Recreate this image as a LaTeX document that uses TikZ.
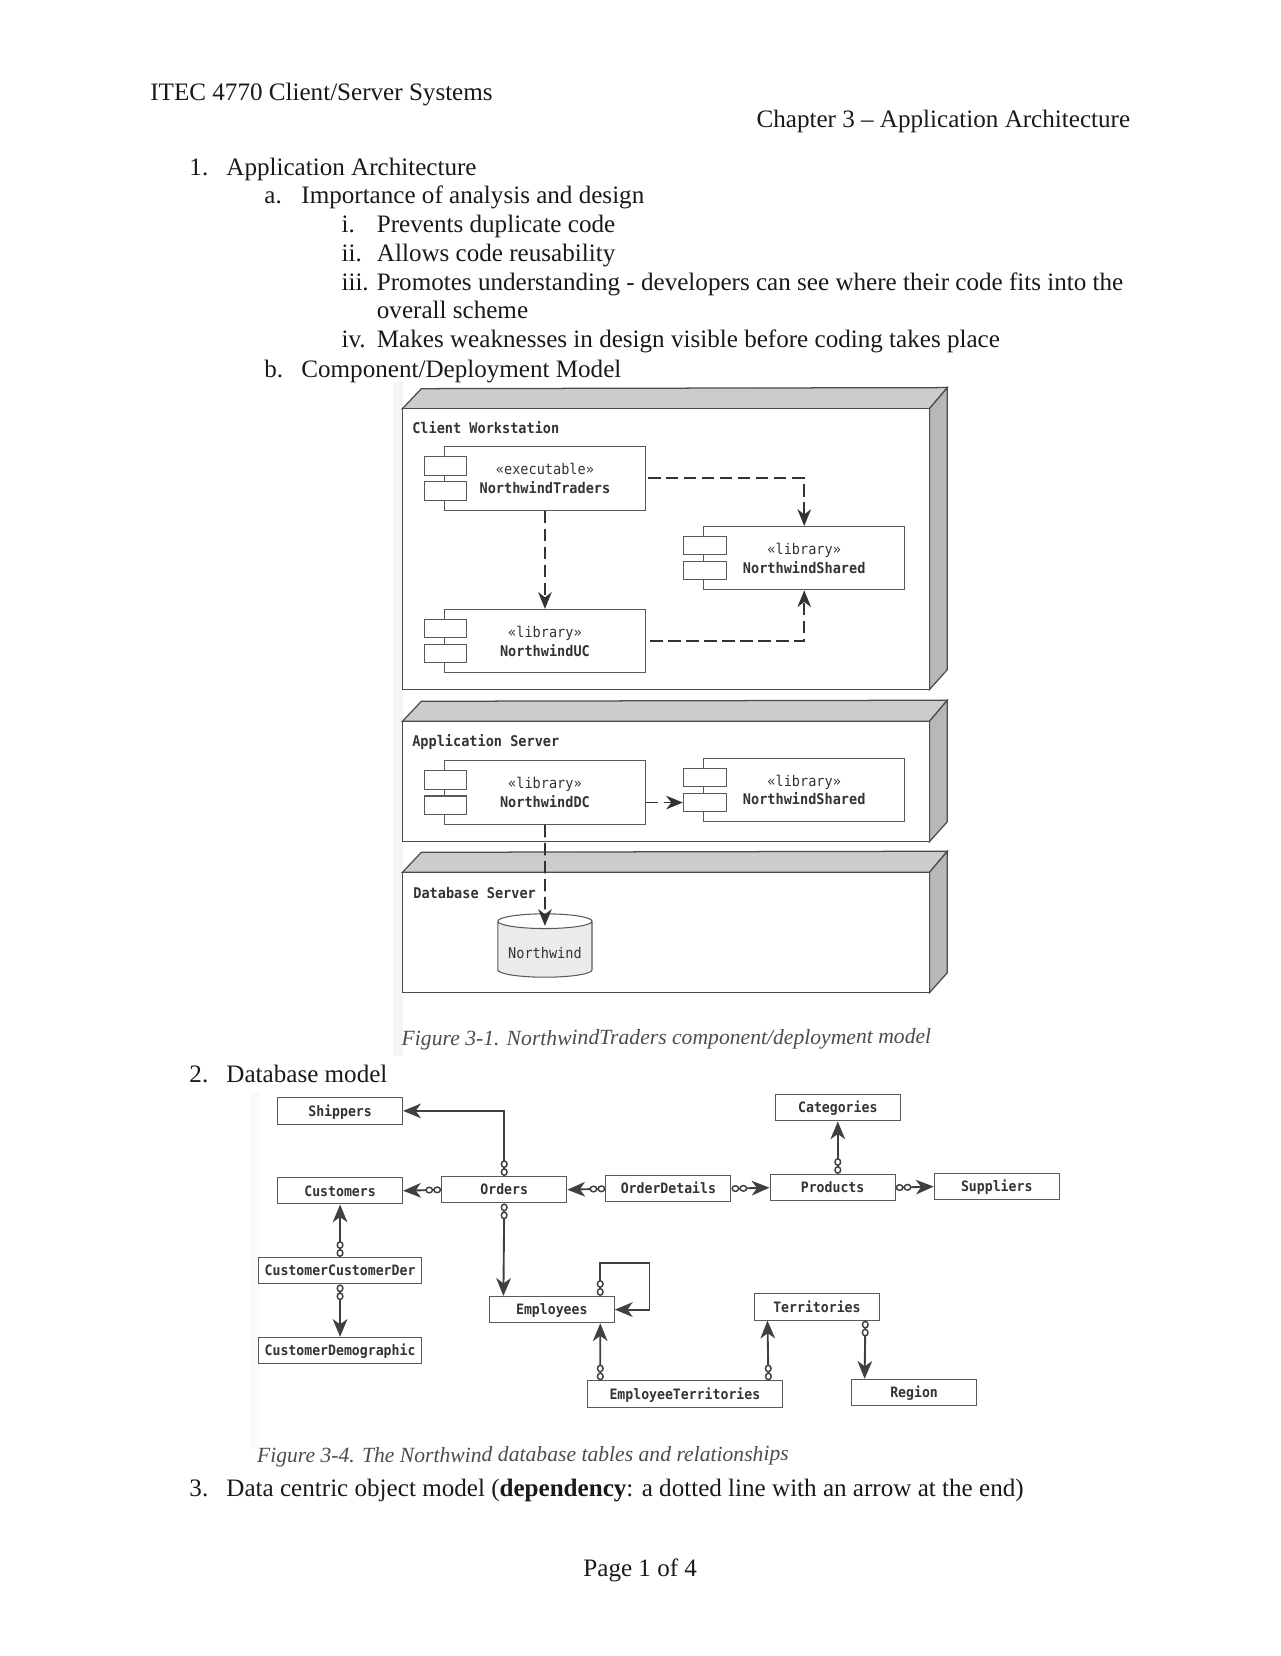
\documentclass[tikz,border=0pt]{standalone}
\usepackage{fontspec}
\setmainfont{Liberation Serif}
\newfontfamily\boxfont[FakeStretch=0.92]{DejaVu Sans Mono}
\usetikzlibrary{shapes,arrows.meta}

\tikzset{
	doctext/.style={anchor=base west, inner sep=0pt, text=black!90, font=\fontsize{12}{14}\selectfont},
	caption/.style={anchor=base west, inner sep=0pt, text=black!70, rotate=0.2, font=\fontsize{10.35}{12}\selectfont\itshape},
	devlabel/.style={anchor=west, inner sep=0pt, text=black!80, font=\boxfont\bfseries\fontsize{7.05}{9}\selectfont},
	compbody/.style={rectangle, draw=black!65, fill=white, line width=.5pt, minimum width=96pt, minimum height=30.3pt, inner sep=0pt, align=center, text=black!80, font=\boxfont\fontsize{7.05}{9}\selectfont},
	comptab/.style={rectangle, draw=black!65, fill=white, line width=.5pt, minimum width=20.5pt, minimum height=8.8pt, inner sep=0pt, xshift=.7pt},
	dbtable/.style={rectangle, draw=black!65, line width=.5pt, minimum width=59.8pt, minimum height=12.6pt, inner sep=0pt, text height=6.4pt, text depth=1.4pt, text=black!80, font=\boxfont\bfseries\fontsize{6.85}{8}\selectfont},
	rowtable/.style={dbtable, node distance=78.5pt, yshift=.5pt},
	coltable/.style={dbtable, node distance=38.2pt},
	deps/.style={draw, black!80, line width=.9pt, dash pattern=on 6pt off 2.6pt, -{Stealth[length=8pt, width=6.5pt, inset=2.5pt]}},
	rel/.style={draw, black!75, line width=.9pt, {Circle[open, fill=white, length=3.8pt, width=3.4pt, line width=.7pt]Circle[open, fill=white, length=3.8pt, width=3.4pt, line width=.7pt]}-{Stealth[length=8.5pt, width=7pt, inset=2.5pt]}}
}

\newcommand{\compbox}[4]{
	\node[compbody] (#1) at (#2) {«#3»\\\textbf{#4}};
	\node[comptab, yshift=6pt] (#1a) at (#1.west) {};
	\node[comptab, yshift=-6pt] (#1b) at (#1.west) {};
}

\begin{document}
\begin{tikzpicture}[x=0.505pt, y=-0.505pt]
	\useasboundingbox (0,0) rectangle (1212,1568);

	% page text
	\node[doctext] (course) at (142,95) {ITEC 4770 Client/Server Systems};
	\node[doctext] (chapter) at (716,121) {Chapter 3 -- Application Architecture};
	\node[doctext] (n1) at (179,166) {1.};
	\node[doctext] (t1) at (214,166) {Application Architecture};
	\node[doctext] (na) at (250,193) {a.};
	\node[doctext] (ta) at (285,193) {Importance of analysis and design};
	\node[doctext] (ni) at (323,220) {i.};
	\node[doctext] (ti) at (356.5,220) {Prevents duplicate code};
	\node[doctext] (nii) at (323,248) {ii.};
	\node[doctext] (tii) at (356.5,248) {Allows code reusability};
	\node[doctext] (niii) at (323,275) {iii.};
	\node[doctext] (tiii) at (356.5,275) {Promotes understanding - developers can see where their code fits into the};
	\node[doctext] (tiiib) at (356.5,302) {overall scheme};
	\node[doctext] (niv) at (323,329) {iv.};
	\node[doctext] (tiv) at (356.5,329) {Makes weaknesses in design visible before coding takes place};
	\node[doctext] (nb) at (250,357) {b.};
	\node[doctext] (tb) at (285,357) {Component/Deployment Model};
	\node[doctext] (n2) at (179,1025) {2.};
	\node[doctext] (t2) at (214,1025) {Database model};
	\node[doctext] (n3) at (179,1417) {3.};
	\node[doctext] (t3) at (214,1417) {Data centric object model (\textbf{dependency}: a dotted line with an arrow at the end)};
	\node[doctext] (pageno) at (552,1493) {Page 1 of 4};

	% scan edges
	\fill[black!4] (372,362) rectangle (382,1000);
	\fill[black!2] (238,1035) rectangle (246,1372);

	% deployment boxes
	\foreach \ytop/\ybot in {387/653, 683/797, 826/940}{
		\path[draw=black!70, fill=black!20, line width=.6pt] (381,\ytop) -- ++(18,-19) -- ++(498,-1) -- (880,\ytop) -- cycle;
		\path[draw=black!70, fill=black!28, line width=.6pt] (880,\ytop) -- (897,\ytop-20) -- (897,\ybot-19) -- (880,\ybot) -- cycle;
		\path[draw=black!70, fill=white, line width=.6pt] (381,\ytop) rectangle (880,\ybot);
	}
	\node[devlabel] (client) at (390,405) {Client Workstation};
	\node[devlabel] (appserver) at (390,703) {Application Server};
	\node[devlabel] (dbserver) at (391,846) {Database Server};

	\compbox{traders}{516,453}{executable}{NorthwindTraders}
	\compbox{shared}{761.5,528.5}{library}{NorthwindShared}
	\compbox{uc}{516,607}{library}{NorthwindUC}
	\compbox{dc}{516,750.5}{library}{NorthwindDC}
	\compbox{sharedb}{761.5,748}{library}{NorthwindShared}
	\node[cylinder, shape border rotate=90, aspect=0.2, draw=black!65, line width=.5pt, cylinder uses custom fill, cylinder end fill=white, cylinder body fill=black!8, minimum width=45pt, minimum height=30.3pt, inner sep=0pt, text=black!80, font=\boxfont\fontsize{7.05}{9}\selectfont] (northwind) at (516,899) {\raisebox{-2.6pt}[1ex][0pt]{Northwind}};

	\path[deps] ([xshift=1pt]traders.east) -| (shared.north);
	\path[deps] (traders.south) -- (uc.north);
	\path[deps] ([xshift=2pt]uc.east) -| (shared.south);
	\path[deps] (dc.east |- sharedbb.west) -- (sharedbb.west);
	\path[deps] (dc.south) -- ([yshift=-6pt]northwind.north);

	\node[caption] (figone) at (380,990) {Figure 3-1. NorthwindTraders component/deployment model};

	% database tables
	\node[dbtable] (customers) at (322,1127.5) {Customers};
	\node[rowtable, right of=customers] (orders) {Orders};
	\node[rowtable, right of=orders] (details) {OrderDetails};
	\node[rowtable, right of=details] (products) {Products};
	\node[rowtable, right of=products] (suppliers) {Suppliers};
	\node[coltable, above of=customers] (shippers) {Shippers};
	\node[coltable, above of=products, xshift=2.5pt] (categories) {Categories};
	\node[coltable, below of=customers, minimum width=78.3pt] (custder) {CustomerCustomerDer};
	\node[coltable, below of=custder, minimum width=78.3pt] (custdemo) {CustomerDemographic};
	\node[dbtable] (employees) at (522.5,1240) {Employees};
	\node[dbtable] (territories) at (773.5,1237.5) {Territories};
	\node[dbtable, minimum width=93.4pt] (empterr) at (648.5,1320) {EmployeeTerritories};
	\node[dbtable] (region) at (865.5,1318.5) {Region};
	\coordinate (loopcorner) at (615,1196);

	\path[rel] (orders.north) |- (shippers.east);
	\path[rel] (orders.west) -- (customers.east);
	\path[rel] (details.west) -- (orders.east);
	\path[rel] (details.east) -- (products.west);
	\path[rel] (products.east) -- (suppliers.west);
	\path[rel] ([xshift=2.5pt]products.north) -- (categories.south);
	\path[rel] (custder.north) -- (customers.south);
	\path[rel] (custder.south) -- (custdemo.north);
	\path[rel] (orders.south) -- ([xshift=-53.3pt]employees.north east);
	\path[rel] ([xshift=-7pt]employees.north east) |- (loopcorner) |- (employees.east);
	\path[rel] ([xshift=6.5pt]empterr.north west) -- ([xshift=-7pt]employees.south east);
	\path[rel] ([xshift=-7pt]empterr.north east) -- ([xshift=6.5pt]territories.south west);
	\path[rel] ([xshift=-7pt]territories.south east) -- ([xshift=6.5pt]region.north west);

	\node[caption] (figfour) at (243,1385) {Figure 3-4. The Northwind database tables and relationships};
\end{tikzpicture}
\end{document}
